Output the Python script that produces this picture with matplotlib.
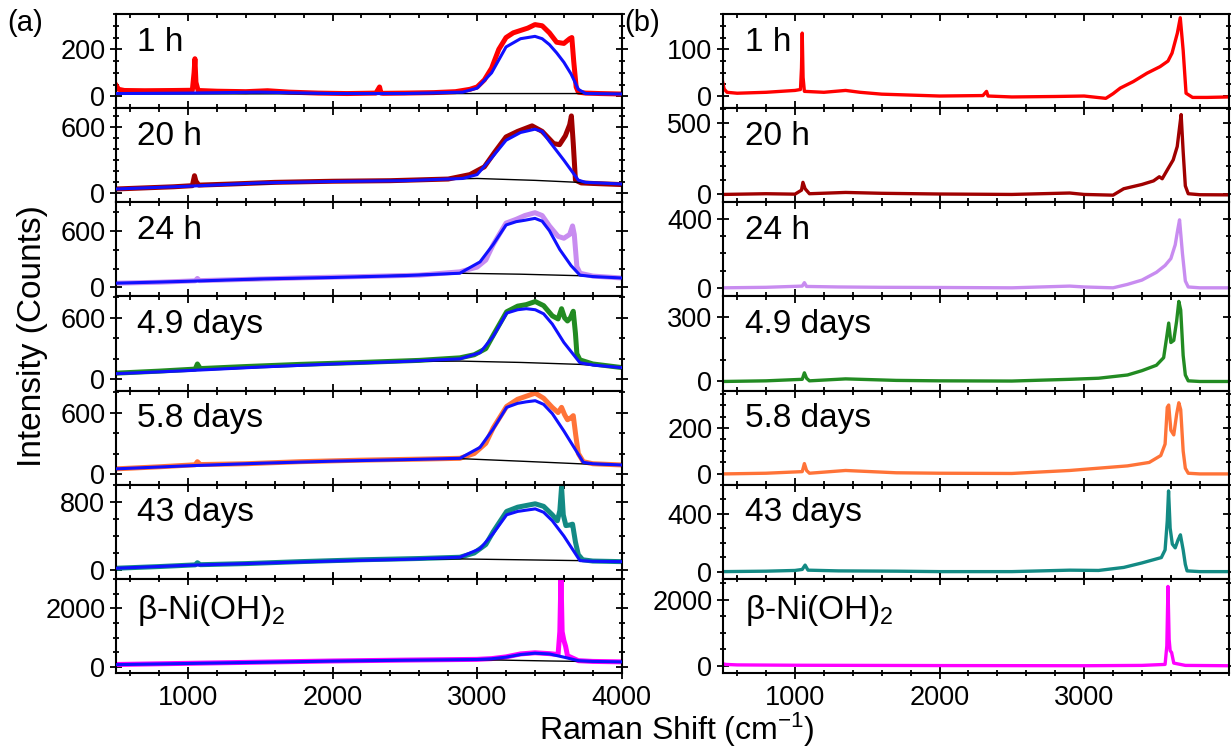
import numpy as np
import matplotlib
matplotlib.use("Agg")
import matplotlib.pyplot as plt
from matplotlib.ticker import MultipleLocator

plt.rcParams.update({
    "font.family": ["Liberation Sans", "DejaVu Sans"],
    "mathtext.fontset": "custom",
    "mathtext.rm": "Liberation Sans",
    "mathtext.it": "Liberation Sans:italic",
    "axes.linewidth": 1.5,
})

BLUE = "#1010ff"
LABELS = ["1 h", "20 h", "24 h", "4.9 days", "5.8 days", "43 days",
          r"β-Ni(OH)$_\mathregular{2}$"]
COLORS = ["#ff0000", "#a00000", "#c88cf0", "#228b22", "#ff7338", "#138a84",
          "#ff00ff"]

# ---- (a) raw spectra: sample (coloured), fit (blue), baseline (black) ----
A_X = [
    [500, 520, 560, 700, 900, 1030, 1042, 1048, 1055, 1070, 1200, 1400, 1550,
     1700, 1900, 2100, 2300, 2325, 2335, 2350, 2500, 2700, 2850, 2950, 3000,
     3050, 3100, 3150, 3200, 3250, 3300, 3350, 3400, 3450, 3500, 3550, 3600,
     3640, 3655, 3668, 3685, 3700, 3750, 3850, 4000],
    [500, 700, 900, 1030, 1045, 1055, 1075, 1300, 1600, 2000, 2400, 2800,
     2950, 3050, 3120, 3200, 3280, 3380, 3450, 3530, 3570, 3610, 3640, 3652,
     3665, 3680, 3720, 3800, 4000],
    [500, 800, 1050, 1065, 1080, 1400, 1800, 2200, 2600, 2880, 3000, 3060,
     3110, 3200, 3270, 3330, 3400, 3450, 3500, 3560, 3600, 3640, 3660, 3672,
     3690, 3712, 3800, 4000],
    [500, 800, 1050, 1065, 1085, 1400, 1775, 2200, 2600, 2881, 2980, 3060,
     3111, 3204, 3280, 3340, 3402, 3460, 3520, 3560, 3584, 3605, 3625, 3645,
     3665, 3680, 3690, 3711, 3800, 4000],
    [500, 800, 1050, 1065, 1085, 1400, 1775, 2200, 2600, 2881, 2980, 3060,
     3111, 3204, 3280, 3340, 3402, 3460, 3520, 3560, 3584, 3605, 3625, 3645,
     3665, 3682, 3700, 3734, 3800, 4000],
    [500, 800, 1050, 1065, 1085, 1400, 1775, 2200, 2600, 2881, 2980, 3060,
     3111, 3204, 3280, 3340, 3402, 3460, 3520, 3555, 3572, 3584, 3596, 3614,
     3640, 3660, 3680, 3700, 3730, 3800, 4000],
    [500, 1000, 1500, 2000, 2500, 3000, 3100, 3200, 3300, 3400, 3500, 3560,
     3572, 3580, 3588, 3600, 3612, 3625, 3700, 3800, 4000],
]
A_Y = [
    [50, 30, 25, 24, 25, 26, 100, 160, 60, 25, 22, 20, 24, 18, 14, 12, 14, 40,
     14, 13, 14, 16, 20, 30, 40, 70, 120, 200, 250, 270, 280, 290, 305, 300,
     270, 230, 225, 245, 250, 150, 40, 18, 14, 12, 10],
    [40, 50, 60, 70, 160, 110, 75, 85, 100, 110, 115, 130, 170, 240, 370, 510,
     560, 610, 560, 450, 440, 520, 620, 700, 450, 120, 95, 90, 80],
    [45, 55, 70, 95, 72, 85, 102, 115, 130, 165, 215, 290, 450, 680, 720, 760,
     790, 760, 650, 540, 520, 560, 650, 560, 220, 150, 120, 100],
    [60, 80, 100, 150, 105, 125, 146, 165, 185, 210, 240, 300, 430, 660, 715,
     730, 760, 720, 620, 590, 690, 600, 570, 600, 665, 450, 250, 190, 150, 115],
    [50, 70, 90, 120, 92, 100, 120, 135, 145, 153, 200, 300, 450, 660, 730,
     760, 790, 740, 650, 600, 651, 580, 530, 545, 570, 380, 200, 120, 100, 88],
    [20, 40, 60, 85, 62, 75, 98, 120, 135, 150, 200, 300, 450, 690, 740, 760,
     780, 750, 650, 580, 700, 980, 650, 523, 530, 540, 330, 180, 120, 105, 98],
    [80, 120, 160, 200, 230, 255, 280, 340, 440, 480, 450, 420, 1200, 3100,
     1200, 900, 700, 380, 210, 185, 170],
]
FIT_X = [
    [500, 1000, 1500, 2000, 2500, 2900, 3000, 3100, 3200, 3300, 3400, 3450,
     3500, 3550, 3600, 3650, 3700, 3750, 4000],
    [500, 1000, 1500, 2000, 2500, 2900, 3000, 3100, 3200, 3300, 3400, 3450,
     3500, 3600, 3650, 3700, 3750, 4000],
    [500, 1000, 1500, 2000, 2500, 2880, 3020, 3110, 3200, 3270, 3330, 3400,
     3450, 3500, 3572, 3650, 3711, 3800, 4000],
    [500, 1000, 1500, 2000, 2500, 2881, 3020, 3111, 3204, 3280, 3340, 3402,
     3460, 3520, 3600, 3711, 3800, 4000],
    [500, 1000, 1500, 2000, 2500, 2881, 3020, 3111, 3204, 3280, 3340, 3402,
     3460, 3520, 3600, 3734, 3800, 4000],
    [500, 1000, 1500, 2000, 2500, 2881, 3020, 3111, 3204, 3280, 3340, 3402,
     3460, 3520, 3600, 3711, 3800, 4000],
    [500, 1000, 1500, 2000, 2500, 3000, 3100, 3200, 3300, 3400, 3500, 3600,
     3700, 3800, 4000],
]
FIT_Y = [
    [12, 14, 18, 12, 12, 18, 35, 100, 210, 245, 255, 245, 220, 185, 145, 95,
     30, 12, 10],
    [40, 65, 95, 108, 115, 135, 170, 320, 480, 550, 580, 560, 470, 300, 210,
     120, 100, 85],
    [45, 65, 90, 105, 125, 150, 270, 452, 660, 695, 710, 730, 700, 600, 400,
     230, 130, 115, 100],
    [55, 85, 120, 150, 175, 200, 260, 420, 647, 680, 690, 680, 640, 540, 360,
     162, 140, 114],
    [50, 80, 105, 125, 140, 153, 260, 440, 651, 690, 705, 716, 680, 590, 420,
     114, 100, 88],
    [20, 55, 80, 105, 125, 150, 250, 430, 650, 690, 705, 720, 680, 580, 400,
     110, 102, 98],
    [75, 115, 155, 195, 225, 250, 275, 330, 420, 465, 440, 330, 210, 185, 170],
]
BASE_X = [
    [500, 2000, 3000, 4000],
    [500, 1000, 2000, 2600, 3000, 3400, 3700, 4000],
    [500, 1000, 2000, 2500, 2880, 3300, 3711, 4000],
    [500, 1000, 2000, 2500, 2881, 3300, 3711, 4000],
    [500, 1000, 2000, 2500, 2881, 3300, 3734, 4000],
    [500, 1000, 2000, 2500, 2881, 3300, 3711, 4000],
    [500, 1000, 2000, 2500, 3000, 3500, 4000],
]
BASE_Y = [
    [10, 11, 12, 12],
    [40, 65, 108, 125, 135, 118, 100, 85],
    [45, 65, 105, 130, 150, 140, 124, 100],
    [55, 85, 150, 175, 178, 165, 146, 114],
    [50, 80, 125, 140, 150, 125, 98, 85],
    [20, 55, 105, 125, 130, 120, 110, 98],
    [75, 115, 195, 225, 245, 200, 165],
]
A_YLIM = [(-50, 350), (-80, 770), (-95, 900), (-110, 810), (-105, 815),
          (-105, 1005), (-210, 3000)]
A_MAJOR = [200, 600, 600, 600, 600, 800, 2000]
A_MINOR = [50, 100, 200, 200, 200, 200, 500]

# ---- (b) baseline/fit-subtracted spectra ----
B_X = [
    [500, 510, 530, 600, 800, 1000, 1038, 1045, 1050, 1056, 1065, 1200, 1350,
     1450, 1600, 1800, 2000, 2300, 2325, 2335, 2500, 2800, 3000, 3150, 3200,
     3250, 3340, 3435, 3525, 3580, 3608, 3645, 3665, 3685, 3705, 3750, 3850,
     4000],
    [500, 800, 1000, 1045, 1055, 1070, 1100, 1350, 1600, 2000, 2500, 2900,
     3000, 3200, 3274, 3400, 3480, 3520, 3540, 3580, 3616, 3644, 3660, 3671,
     3685, 3700, 3720, 3800, 4000],
    [500, 800, 1050, 1065, 1080, 1300, 1600, 2000, 2500, 2900, 3000, 3200,
     3300, 3400, 3500, 3560, 3600, 3630, 3648, 3660, 3680, 3700, 3720, 3800,
     4000],
    [500, 800, 1050, 1065, 1080, 1100, 1350, 1700, 2000, 2500, 2900, 3100,
     3300, 3400, 3500, 3550, 3570, 3585, 3600, 3620, 3640, 3655, 3668, 3685,
     3700, 3720, 3800, 4000],
    [500, 800, 1050, 1065, 1080, 1100, 1350, 1700, 2000, 2500, 2900, 3100,
     3300, 3450, 3530, 3560, 3575, 3585, 3600, 3620, 3640, 3655, 3668, 3685,
     3700, 3720, 3800, 4000],
    [500, 800, 1000, 1050, 1070, 1090, 1300, 1700, 2000, 2500, 2900, 3100,
     3274, 3400, 3534, 3560, 3575, 3584, 3595, 3610, 3630, 3650, 3666, 3685,
     3700, 3712, 3800, 4000],
    [500, 520, 600, 1000, 2000, 3000, 3400, 3560, 3572, 3580, 3588, 3595,
     3605, 3620, 3700, 4000],
]
B_Y = [
    [30, 15, 8, 6, 8, 12, 14, 60, 135, 40, 10, 8, 12, 8, 4, 2, 0, 1, 10, 0,
     -2, -1, 0, -5, 5, 17, 31, 49, 63, 75, 92, 135, 168, 98, 6, -3, -3, -2],
    [0, 5, 2, 30, 85, 40, 5, 14, 8, 3, 0, 10, 0, -5, 40, 70, 95, 124, 110,
     180, 242, 336, 470, 560, 300, 60, 5, -2, -3],
    [0, 3, 10, 30, 8, 5, 3, 2, 0, 10, 5, 0, 20, 45, 90, 130, 170, 250, 340,
     395, 200, 40, 5, 0, 0],
    [0, 3, 10, 40, 15, 3, 12, 5, 3, 2, 10, 15, 30, 50, 75, 110, 200, 270, 180,
     190, 280, 370, 330, 120, 30, 3, 0, 0],
    [0, 3, 10, 45, 15, 3, 15, 5, 3, 2, 15, 25, 35, 50, 80, 130, 290, 300, 190,
     170, 260, 310, 280, 100, 25, 3, 0, 0],
    [0, 3, 8, 15, 45, 10, 5, 3, 0, 0, 10, 8, 29, 60, 97, 150, 350, 557, 300,
     190, 164, 220, 254, 150, 50, 5, 0, 0],
    [60, 40, 25, 15, 5, 0, 10, 40, 600, 2400, 800, 455, 400, 80, 10, 0],
]
B_YLIM = [(-26, 176), (-55, 605), (-50, 497), (-42, 393), (-47, 363),
          (-50, 600), (-220, 2630)]
B_MAJOR = [100, 500, 400, 300, 200, 400, 2000]
B_MINOR = [25, 100, 100, 100, 50, 100, 500]

fig = plt.figure(figsize=(12.31, 7.51), dpi=100)
LEFTS = [115.7 / 1231, 722.7 / 1231]
W = 506 / 1231
TOP = 1 - 14 / 751
H = 659 / 751 / 7


def style(ax, ylim, major, minor, xticks, bottom):
    ax.set_xlim(500, 4000)
    ax.set_ylim(*ylim)
    ax.yaxis.set_major_locator(MultipleLocator(major))
    ax.yaxis.set_minor_locator(MultipleLocator(minor))
    ax.set_xticks(xticks)
    ax.xaxis.set_minor_locator(MultipleLocator(200))
    ax.tick_params(axis="y", which="both", direction="inout", left=True,
                   right=True, labelsize=19.5, pad=3, width=1.3)
    ax.tick_params(axis="y", which="major", length=9)
    ax.tick_params(axis="y", which="minor", length=5)
    ax.tick_params(axis="x", which="both", direction="inout" if bottom else "in",
                   top=True, bottom=True, labelsize=19.5, width=1.3,
                   labelbottom=bottom, pad=4)
    ax.tick_params(axis="x", which="major", length=9 if bottom else 5)
    ax.tick_params(axis="x", which="minor", length=5 if bottom else 3)


for i in range(7):
    ax = fig.add_axes([LEFTS[0], TOP - (i + 1) * H, W, H])
    ax.plot(A_X[i], A_Y[i], color=COLORS[i], lw=3.6, zorder=2)
    ax.plot(BASE_X[i], BASE_Y[i], color="black", lw=1.0, zorder=3)
    ax.plot(FIT_X[i], FIT_Y[i], color=BLUE, lw=2.2, zorder=4)
    style(ax, A_YLIM[i], A_MAJOR[i], A_MINOR[i], [1000, 2000, 3000, 4000],
          i == 6)
    ax.text(0.042, 0.70 if i < 6 else 0.66, LABELS[i], transform=ax.transAxes,
            fontsize=24, va="center", ha="left")

    bx = fig.add_axes([LEFTS[1], TOP - (i + 1) * H, W, H])
    bx.plot(B_X[i], B_Y[i], color=COLORS[i], lw=2.4)
    style(bx, B_YLIM[i], B_MAJOR[i], B_MINOR[i], [1000, 2000, 3000], i == 6)
    bx.text(0.044, 0.70 if i < 6 else 0.66, LABELS[i], transform=bx.transAxes,
            fontsize=24, va="center", ha="left")

fig.text(0.006, 0.988, "(a)", fontsize=21, va="top", ha="left")
fig.text(0.507, 0.988, "(b)", fontsize=21, va="top", ha="left")
fig.text(0.55, 0.003, r"Raman Shift (cm$^\mathregular{-1}$)", fontsize=23,
         ha="center", va="bottom")
fig.text(0.014, 0.553, "Intensity (Counts)", fontsize=24, rotation=90,
         ha="left", va="center")

fig.savefig("out.png", dpi=100, facecolor="white")
